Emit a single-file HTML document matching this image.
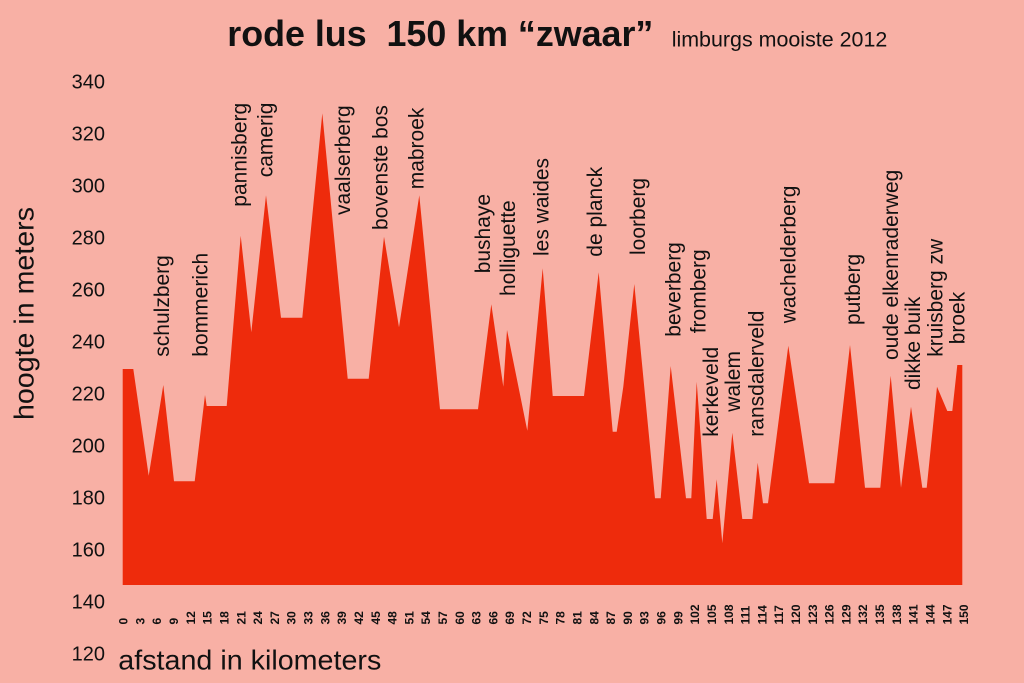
<!DOCTYPE html>
<html>
<head>
<meta charset="utf-8">
<style>
  html, body { margin: 0; padding: 0; background: #f8b0a5; }
  svg { display: block; }
  text { font-family: "Liberation Sans", Arial, sans-serif; fill: #111; }
</style>
</head>
<body>
<svg width="1024" height="683" viewBox="0 0 1024 683" xmlns="http://www.w3.org/2000/svg">
  <rect x="0" y="0" width="1024" height="683" fill="#f8b0a5"/>

  <!-- Title -->
  <text x="227.3" y="46" font-size="36" font-weight="bold" textLength="426" lengthAdjust="spacingAndGlyphs" xml:space="preserve">rode lus  150 km “zwaar”</text>
  <text x="671.7" y="46.5" font-size="21.5" textLength="215.6" lengthAdjust="spacingAndGlyphs">limburgs mooiste 2012</text>

  <!-- Profile -->
  <polygon fill="#ee2b0c" points="
    122.7,583.7 122.7,369 133.3,369 148.7,475.7 163.3,385 174,481.3 194.7,481.3
    205,395 206.7,406 226.7,406 240.7,235.7 251.3,332.3 266,195.3 281,317.7 302.3,317.7
    322.3,113.3 347.7,378.7 368.7,378.7 384,236.7 399,327.3 419.3,195.3 440,409.3 478,409.3
    491.3,304.3 503.3,386.7 507,330 527.3,430.7 542.7,268.3 552.7,396 584,396 598.7,272.3
    612.7,431.7 616.7,431.7 623.3,386.7 634.3,284 655,498.3 660.7,498.3 670.7,366 686,498.3
    691.3,498.3 696.7,381.7 706.7,519 712.7,519 716.7,479.3 722.3,543.3 732.3,432.7
    742.3,519 752.3,519 757.7,462.7 763,503.3 768,503.3 788.3,345.7 809,483.3 834.3,483.3
    850,345 865,487.7 880.3,487.7 890.7,375.7 901,487.7 911,406.7 922.3,487.7 926.7,487.7
    937,386.7 947.3,411 952.3,411 957.3,365 962.3,365 962.3,585 122.7,585"/>

  <!-- Y axis labels -->
  <g font-size="20" text-anchor="end">
    <text x="105" y="88.3">340</text>
    <text x="105" y="140.3">320</text>
    <text x="105" y="192.3">300</text>
    <text x="105" y="244.3">280</text>
    <text x="105" y="296.3">260</text>
    <text x="105" y="348.3">240</text>
    <text x="105" y="400.3">220</text>
    <text x="105" y="452.3">200</text>
    <text x="105" y="504.3">180</text>
    <text x="105" y="556.3">160</text>
    <text x="105" y="608.3">140</text>
    <text x="105" y="660.3">120</text>
  </g>

  <!-- Axis titles -->
  <text transform="translate(33.3,420) rotate(-90)" font-size="28" textLength="213" lengthAdjust="spacingAndGlyphs">hoogte in meters</text>
  <text x="118.3" y="669.3" font-size="28" textLength="263" lengthAdjust="spacingAndGlyphs">afstand in kilometers</text>

  <!-- X tick labels -->
  <g font-size="12" font-weight="bold">
    <text transform="translate(127.6,624.5) rotate(-90)">0</text>
    <text transform="translate(144.4,624.5) rotate(-90)">3</text>
    <text transform="translate(161.2,624.5) rotate(-90)">6</text>
    <text transform="translate(178.0,624.5) rotate(-90)">9</text>
    <text transform="translate(194.8,624.5) rotate(-90)">12</text>
    <text transform="translate(211.7,624.5) rotate(-90)">15</text>
    <text transform="translate(228.5,624.5) rotate(-90)">18</text>
    <text transform="translate(245.3,624.5) rotate(-90)">21</text>
    <text transform="translate(262.1,624.5) rotate(-90)">24</text>
    <text transform="translate(278.9,624.5) rotate(-90)">27</text>
    <text transform="translate(295.7,624.5) rotate(-90)">30</text>
    <text transform="translate(312.5,624.5) rotate(-90)">33</text>
    <text transform="translate(329.3,624.5) rotate(-90)">36</text>
    <text transform="translate(346.1,624.5) rotate(-90)">39</text>
    <text transform="translate(362.9,624.5) rotate(-90)">42</text>
    <text transform="translate(379.8,624.5) rotate(-90)">45</text>
    <text transform="translate(396.6,624.5) rotate(-90)">48</text>
    <text transform="translate(413.4,624.5) rotate(-90)">51</text>
    <text transform="translate(430.2,624.5) rotate(-90)">54</text>
    <text transform="translate(447.0,624.5) rotate(-90)">57</text>
    <text transform="translate(463.8,624.5) rotate(-90)">60</text>
    <text transform="translate(480.6,624.5) rotate(-90)">63</text>
    <text transform="translate(497.4,624.5) rotate(-90)">66</text>
    <text transform="translate(514.2,624.5) rotate(-90)">69</text>
    <text transform="translate(531.0,624.5) rotate(-90)">72</text>
    <text transform="translate(547.9,624.5) rotate(-90)">75</text>
    <text transform="translate(564.7,624.5) rotate(-90)">78</text>
    <text transform="translate(581.5,624.5) rotate(-90)">81</text>
    <text transform="translate(598.3,624.5) rotate(-90)">84</text>
    <text transform="translate(615.1,624.5) rotate(-90)">87</text>
    <text transform="translate(631.9,624.5) rotate(-90)">90</text>
    <text transform="translate(648.7,624.5) rotate(-90)">93</text>
    <text transform="translate(665.5,624.5) rotate(-90)">96</text>
    <text transform="translate(682.3,624.5) rotate(-90)">99</text>
    <text transform="translate(699.1,624.5) rotate(-90)">102</text>
    <text transform="translate(716.0,624.5) rotate(-90)">105</text>
    <text transform="translate(732.8,624.5) rotate(-90)">108</text>
    <text transform="translate(749.6,624.5) rotate(-90)">111</text>
    <text transform="translate(766.4,624.5) rotate(-90)">114</text>
    <text transform="translate(783.2,624.5) rotate(-90)">117</text>
    <text transform="translate(800.0,624.5) rotate(-90)">120</text>
    <text transform="translate(816.8,624.5) rotate(-90)">123</text>
    <text transform="translate(833.6,624.5) rotate(-90)">126</text>
    <text transform="translate(850.4,624.5) rotate(-90)">129</text>
    <text transform="translate(867.2,624.5) rotate(-90)">132</text>
    <text transform="translate(884.1,624.5) rotate(-90)">135</text>
    <text transform="translate(900.9,624.5) rotate(-90)">138</text>
    <text transform="translate(917.7,624.5) rotate(-90)">141</text>
    <text transform="translate(934.5,624.5) rotate(-90)">144</text>
    <text transform="translate(951.3,624.5) rotate(-90)">147</text>
    <text transform="translate(968.1,624.5) rotate(-90)">150</text>
  </g>

  <!-- Climb names -->
  <g font-size="21">
    <text transform="translate(169,356.7) rotate(-90)">schulzberg</text>
    <text transform="translate(207.3,356.7) rotate(-90)">bommerich</text>
    <text transform="translate(246.7,206.7) rotate(-90)">pannisberg</text>
    <text transform="translate(272.3,177.3) rotate(-90)">camerig</text>
    <text transform="translate(350,215) rotate(-90)">vaalserberg</text>
    <text transform="translate(387.3,230) rotate(-90)">bovenste bos</text>
    <text transform="translate(423.3,189.3) rotate(-90)">mabroek</text>
    <text transform="translate(490,273.3) rotate(-90)">bushaye</text>
    <text transform="translate(515,296) rotate(-90)">holliguette</text>
    <text transform="translate(548.7,256) rotate(-90)">les waides</text>
    <text transform="translate(602,256.7) rotate(-90)">de planck</text>
    <text transform="translate(645,255) rotate(-90)">loorberg</text>
    <text transform="translate(680.3,336.7) rotate(-90)">beverberg</text>
    <text transform="translate(705.7,333.3) rotate(-90)">fromberg</text>
    <text transform="translate(718,436.7) rotate(-90)">kerkeveld</text>
    <text transform="translate(740,411.7) rotate(-90)">walem</text>
    <text transform="translate(763.3,436.7) rotate(-90)">ransdalerveld</text>
    <text transform="translate(795.3,323.3) rotate(-90)">wachelderberg</text>
    <text transform="translate(860,325) rotate(-90)">putberg</text>
    <text transform="translate(898,360) rotate(-90)">oude elkenraderweg</text>
    <text transform="translate(920,390) rotate(-90)">dikke buik</text>
    <text transform="translate(942.3,356.7) rotate(-90)">kruisberg zw</text>
    <text transform="translate(964.3,344.3) rotate(-90)">broek</text>
  </g>
</svg>
</body>
</html>
